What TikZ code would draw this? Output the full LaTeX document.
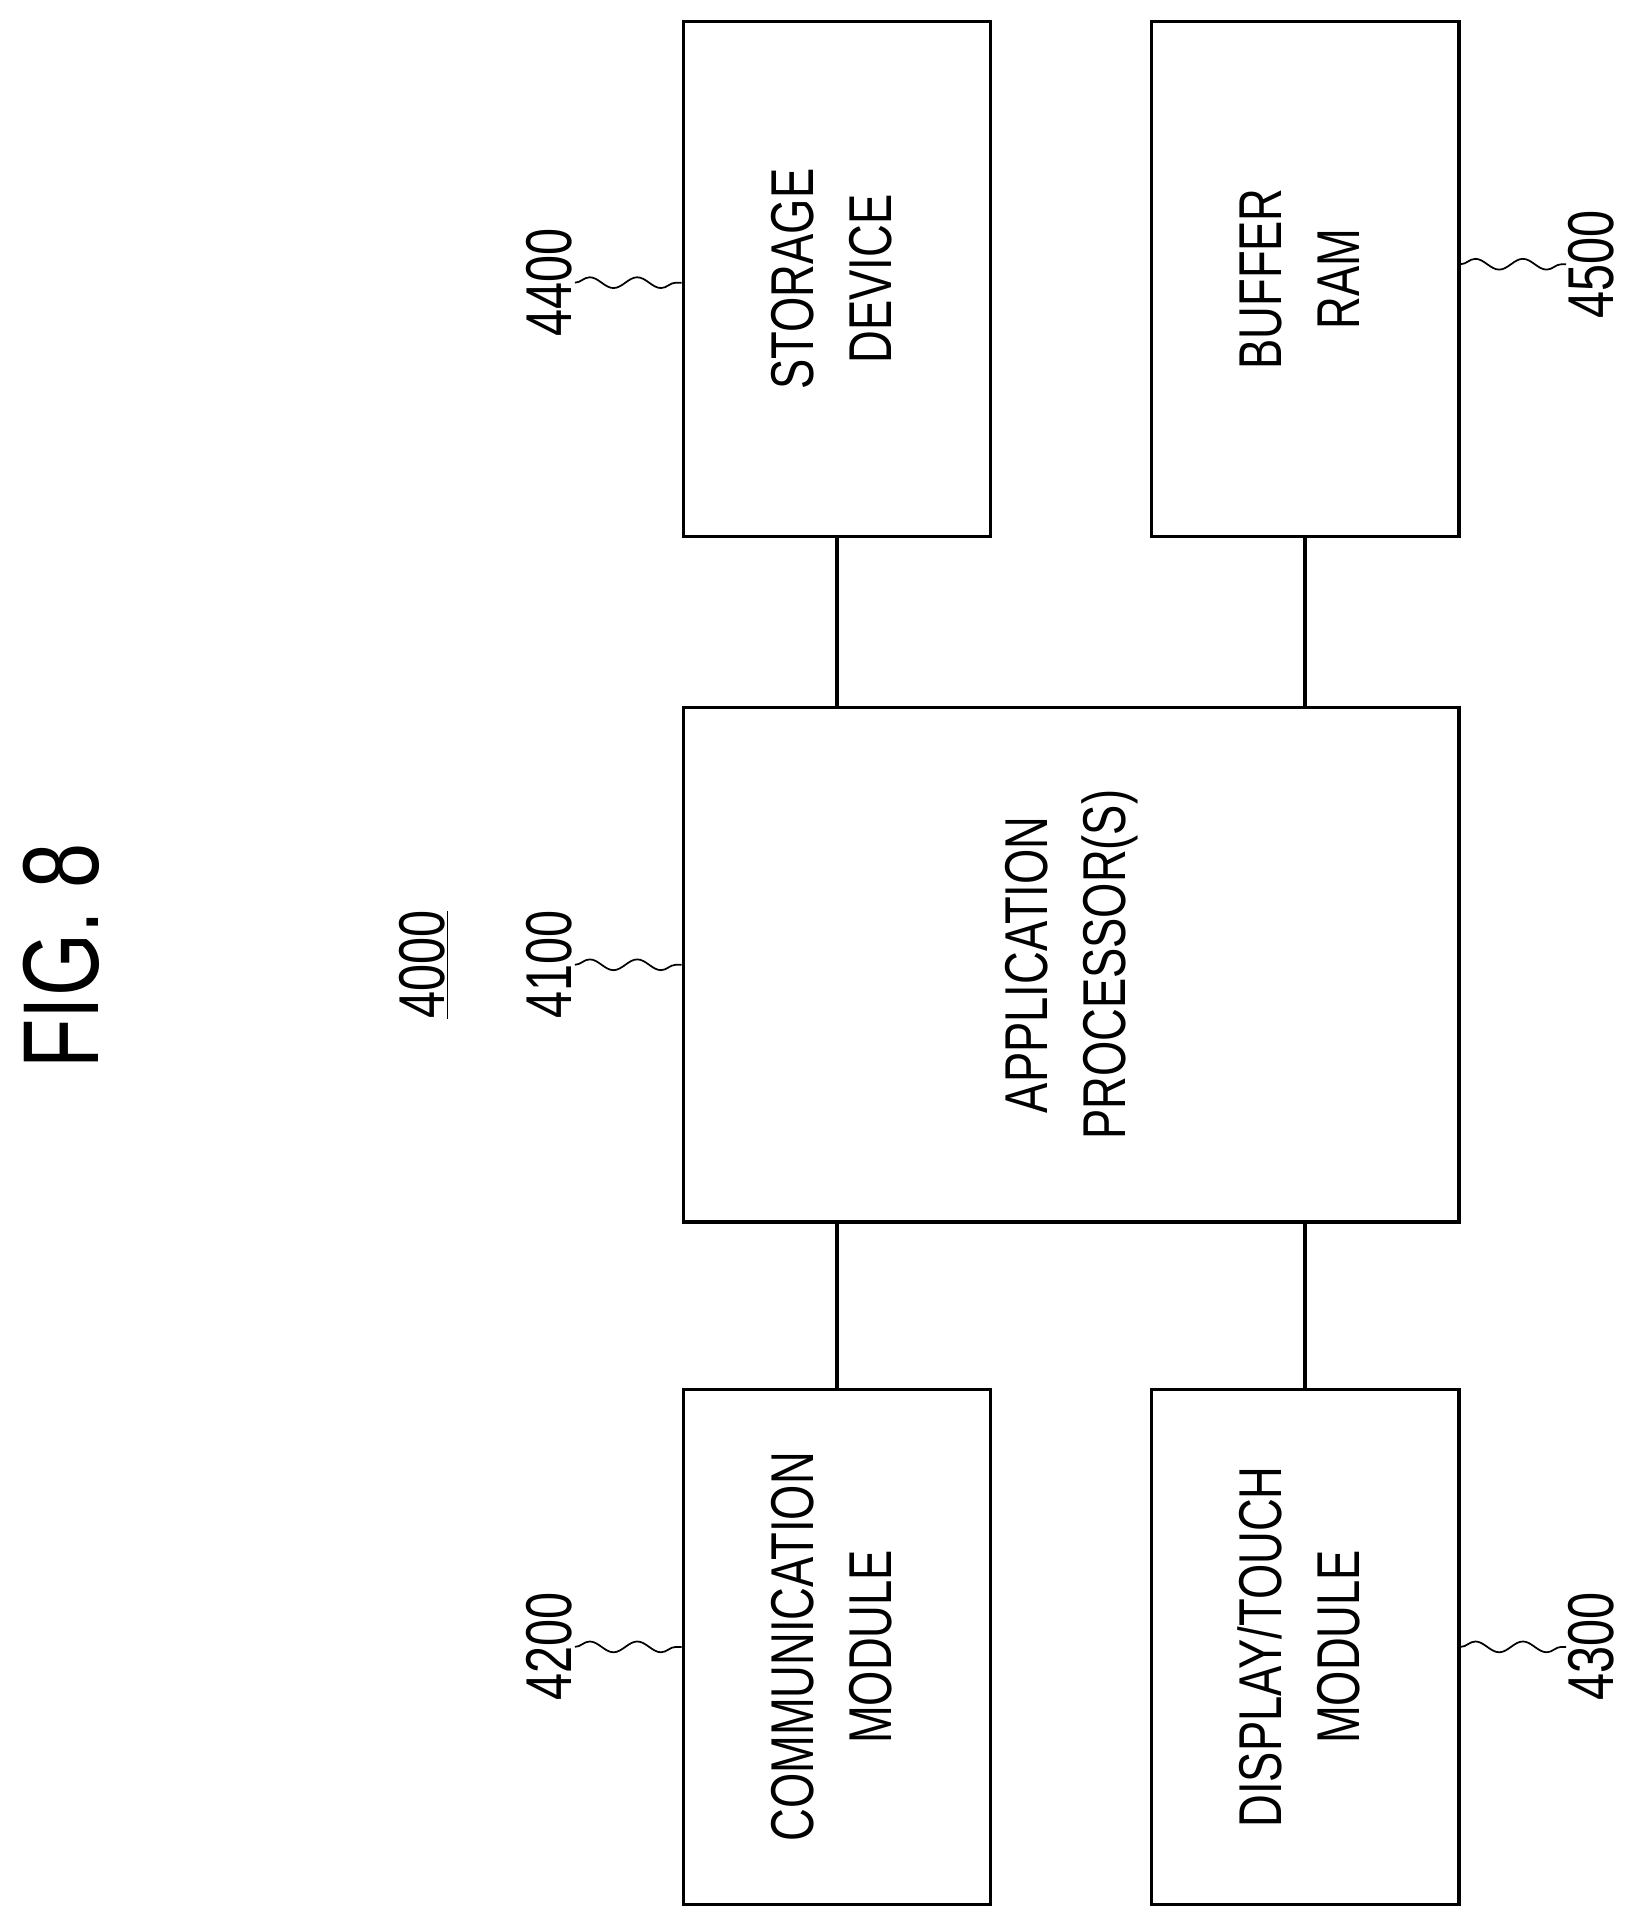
\documentclass[tikz,border=0pt]{standalone}
\usepackage{fontspec}
\setmainfont{Liberation Sans}
\newfontfamily\narrowfont[FakeStretch=0.75]{Liberation Sans}
\usetikzlibrary{decorations.pathmorphing}
\newcommand{\vtext}[1]{\rotatebox{90}{\begin{tabular}{@{}c@{}}#1\end{tabular}}}
\begin{document}
\begin{tikzpicture}
      [x=0.02cm,y=-0.02cm
      ,blk/.style={draw,line width=1.6pt,minimum width=5cm,minimum height=8.38cm,inner sep=0pt,
                   font=\narrowfont\fontsize{28}{36}\selectfont}
      ,lbl/.style={rotate=90,font=\narrowfont\fontsize{30}{36}\selectfont,inner sep=1pt}
      ,lin/.style={line width=1.6pt}
      ,wav/.style={line width=0.8pt,decorate,decoration={snake,amplitude=2.5pt,segment length=22pt}}
      ]
        \useasboundingbox (0,0) rectangle (1330,1572);
        % blocks
        \node[blk] (sto) at (681,227) {\vtext{STORAGE\\DEVICE}};
        \node[blk] (buf) at (1062,227) {\vtext{BUFFER\\RAM}};
        \node[blk,minimum width=12.62cm] (ap) at (871.5,785) {\vtext{APPLICATION\\PROCESSOR(S)}};
        \node[blk] (com) at (681,1340) {\vtext{COMMUNICATION\\MODULE}};
        \node[blk] (dis) at (1062,1340) {\vtext{DISPLAY/TOUCH\\MODULE}};
        % connectors
        \draw[lin] (sto.south) -- (sto.south |- ap.north);
        \draw[lin] (buf.south) -- (buf.south |- ap.north);
        \draw[lin] (com.north) -- (com.north |- ap.south);
        \draw[lin] (dis.north) -- (dis.north |- ap.south);
        % titles and reference numbers
        \node[rotate=90,font=\narrowfont\fontsize{50}{56}\selectfont] (fig) at (50,778) {FIG. 8};
        \node[lbl] (n4000) at (345,785) {\underline{4000}};
        \node[lbl] (n4100) at (447,785) {4100};
        \node[lbl] (n4400) at (447,230) {4400};
        \node[lbl] (n4500) at (1295,215) {4500};
        \node[lbl] (n4200) at (447,1340) {4200};
        \node[lbl] (n4300) at (1295,1340) {4300};
        \draw[wav] (n4100.south) -- (ap.west |- n4100);
        \draw[wav] (n4400.south) -- (sto.west |- n4400);
        \draw[wav] (n4200.south) -- (com.west |- n4200);
        \draw[wav] (buf.east |- n4500) -- (n4500.north);
        \draw[wav] (dis.east |- n4300) -- (n4300.north);
      \end{tikzpicture}
\end{document}
